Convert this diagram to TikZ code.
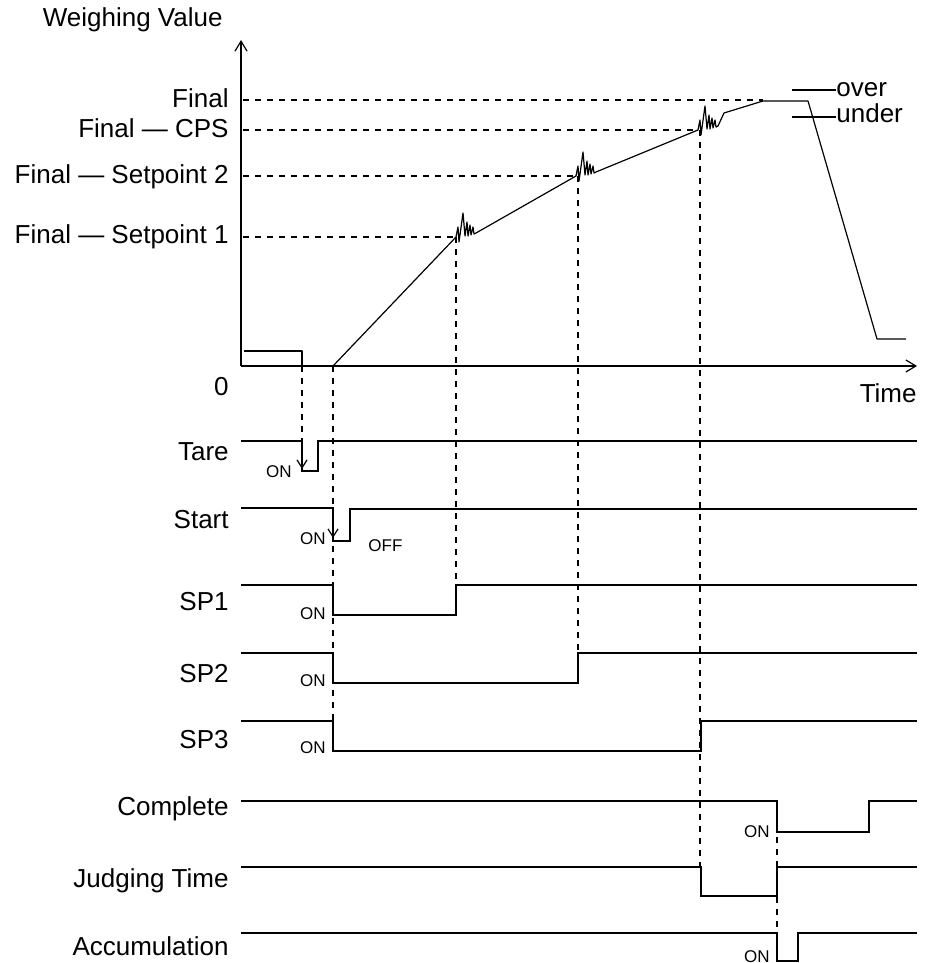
\documentclass[tikz,border=0pt]{standalone}
\usepackage{fontspec}
\setmainfont{Liberation Sans}
\usetikzlibrary{arrows.meta}

\begin{document}
\begin{tikzpicture}[
    x=0.5pt, y=-0.5pt,
    axis/.style={line width=1pt, -{Straight Barb[length=5pt, width=6pt, line width=0.6pt]}},
    signal/.style={line width=1pt, line join=miter},
    guide/.style={line width=1pt, dash pattern=on 3pt off 3pt},
    press/.style={line width=0.6pt, -{Straight Barb[length=4pt, width=5pt, line width=0.6pt]}},
    weight/.style={line width=0.6pt, line join=round},
    jitter/.style={insert path={-- +(2,-10) -- +(3,5) -- +(7,-24) -- +(9,-1) -- +(11,-15) -- +(12,-1) -- +(14,-12) -- +(15,-2) -- +(17,-10) -- +(18,-3) -- +(20,-4)}},
    lbl/.style={font=\fontsize{13}{15}\selectfont, anchor=base east, inner sep=0pt},
    tag/.style={font=\fontsize{8.5}{10}\selectfont, anchor=base east, inner sep=0pt}
]
    \useasboundingbox (0,0) rectangle (925,963);

    % Achsen des Wiegediagramms
    \coordinate (O) at (241,366);
    \coordinate (ytip) at (241,40);
    \coordinate (xtip) at (917,366);
    \draw [axis] (O) -- (ytip);
    \draw [axis] (O) -- (xtip);

    \node [lbl] (wv) at (223,27) {Weighing Value};
    \node [lbl] (zero) at (229,395) {0};
    \node [lbl] (time) at (917,402) {Time};

    % Sollwerte
    \node [lbl] (final) at (229,108) {Final};
    \node [lbl] (cps) at (229,138) {Final — CPS};
    \node [lbl] (lvl2) at (229,184) {Final — Setpoint 2};
    \node [lbl] (lvl1) at (229,243) {Final — Setpoint 1};

    \draw [guide] (243,100) -- (763,100);
    \draw [guide] (243,130) -- (698,130);
    \draw [guide] (243,176) -- (576,176);
    \draw [guide] (243,237) -- (456,237);

    % Gewichtsverlauf
    \draw [weight] (244,351) -- (302,351) -- (302,366);
    \draw [weight] (333,366) -- (456,237) [jitter] -- (576,176) [jitter]
        -- (698,130) [jitter] -- (724,113) -- (763,101) -- (808,101)
        -- (877,339) -- (906,339);

    \node [lbl, anchor=base west] (over) at (836,97) {over};
    \node [lbl, anchor=base west] (under) at (836,123) {under};
    \draw [signal] (792,90) -- (over.west |- 0,90);
    \draw [signal] (792,117) -- (under.west |- 0,117);

    % Signale
    \node [lbl] (tare) at (229,460) {Tare};
    \node [lbl] (start) at (229,528) {Start};
    \node [lbl] (sp1) at (229,610) {SP1};
    \node [lbl] (sp2) at (229,682) {SP2};
    \node [lbl] (sp3) at (229,748) {SP3};
    \node [lbl] (complete) at (229,815) {Complete};
    \node [lbl] (judge) at (229,887) {Judging Time};
    \node [lbl] (accum) at (229,955) {Accumulation};

    \draw [signal] (241,441) -- (302,441) -- (302,471) -- (318,471) -- (318,441) -- (917,441);
    \draw [signal] (241,508) -- (333,508) -- (333,541) -- (350,541) -- (350,509) -- (917,509);
    \draw [signal] (241,585) -- (333,585) -- (333,615) -- (456,615) -- (456,585) -- (917,585);
    \draw [signal] (241,653) -- (333,653) -- (333,683) -- (578,683) -- (578,653) -- (917,653);
    \draw [signal] (241,721) -- (333,721) -- (333,751) -- (701,751) -- (701,721) -- (917,721);
    \draw [signal] (241,801) -- (777,801) -- (777,832) -- (869,832) -- (869,801) -- (917,801);
    \draw [signal] (241,867) -- (701,867) -- (701,896) -- (777,896) -- (777,867) -- (917,867);
    \draw [signal] (241,933) -- (777,933) -- (777,961) -- (798,961) -- (798,933) -- (917,933);

    \node [tag] (tareon) at (292,477) {ON};
    \node [tag] (starton) at (326,544) {ON};
    \node [tag, anchor=base west] (startoff) at (368,551) {OFF};
    \node [tag] (sp1on) at (326,619) {ON};
    \node [tag] (sp2on) at (326,686) {ON};
    \node [tag] (sp3on) at (326,753) {ON};
    \node [tag] (completeon) at (770,837) {ON};
    \node [tag] (accumon) at (770,962) {ON};

    % Zeitpunkte (gestrichelt)
    \draw [guide] (302,366) -- (302,441);
    \draw [press] (302,446) -- (302,469);
    \draw [guide] (333,366) -- (333,751);
    \draw [press] (333,514) -- (333,538);
    \draw [guide] (456,237) -- (456,585);
    \draw [guide] (578,176) -- (578,653);
    \draw [guide] (700,130) -- (700,867);
    \draw [guide] (777,801) -- (777,933);

\end{tikzpicture}
\end{document}
